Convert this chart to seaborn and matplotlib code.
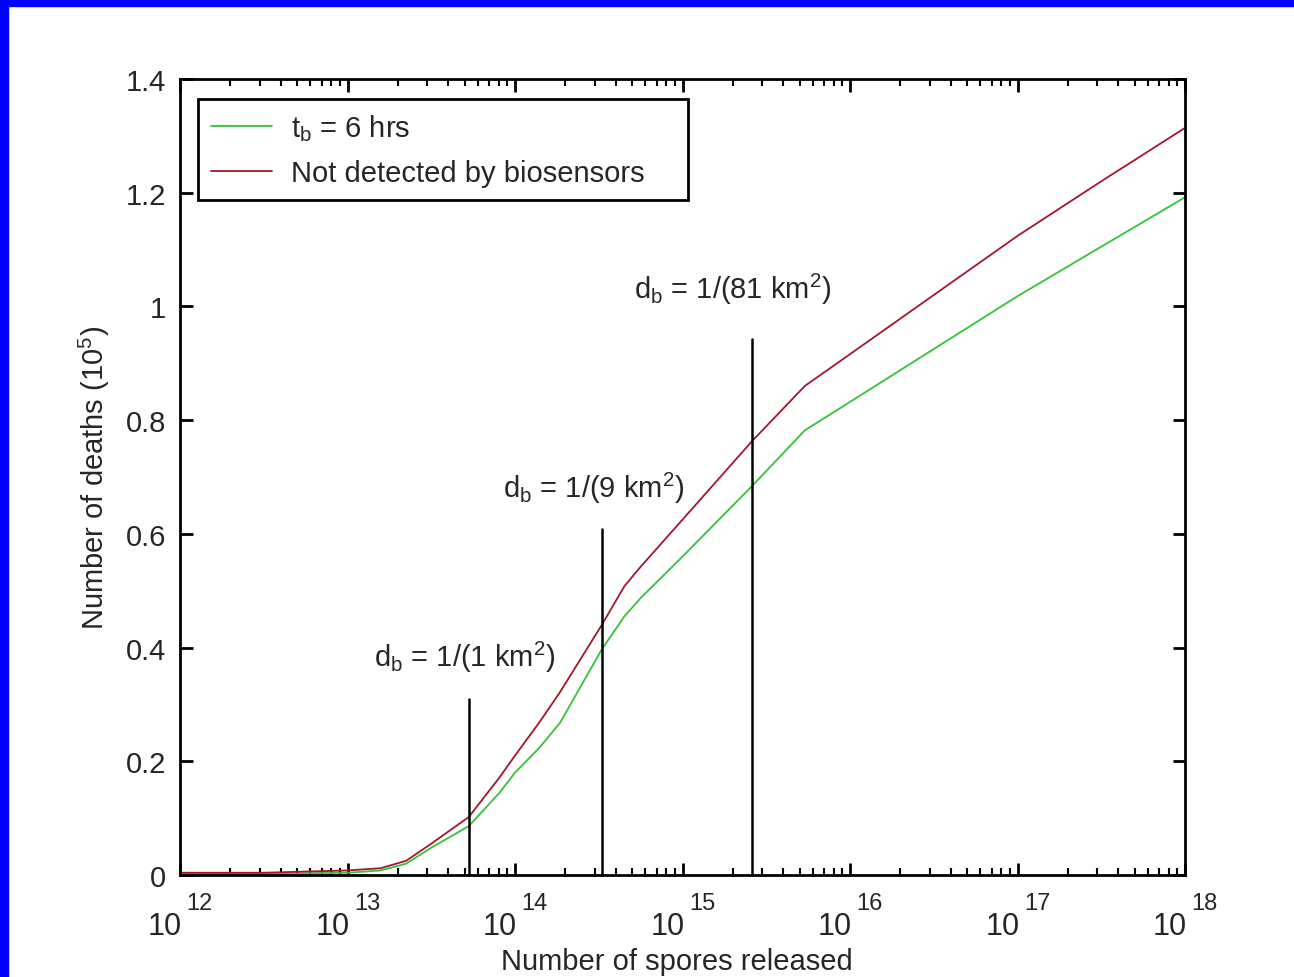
import numpy as np
import pandas as pd
import seaborn as sns
import matplotlib
matplotlib.use("Agg")
import matplotlib.pyplot as plt
from matplotlib.patches import Rectangle
from matplotlib.lines import Line2D
from matplotlib.ticker import FixedLocator, LogLocator, NullFormatter, FuncFormatter
import matplotlib.transforms as mtransforms

# ---------------- data ----------------
spores = [1e12, 3.16e12, 1e13, 1.58e13, 2.24e13, 3.16e13, 5.3e13, 8.1e13, 1e14,
          1.41e14, 1.86e14, 3.3e14, 4.5e14, 5.62e14, 1e15, 2.6e15, 5.37e15,
          1e16, 3.16e16, 1e17, 3.16e17, 1e18]
not_detected = [0.004, 0.004, 0.008, 0.012, 0.025, 0.055, 0.102, 0.172, 0.21,
                0.27, 0.322, 0.44, 0.508, 0.542, 0.625, 0.763, 0.86,
                0.916, 1.02, 1.124, 1.22, 1.314]
tb_6hrs = [0.002, 0.002, 0.004, 0.008, 0.02, 0.048, 0.086, 0.145, 0.18,
           0.225, 0.268, 0.397, 0.455, 0.487, 0.56, 0.684, 0.782,
           0.832, 0.925, 1.018, 1.105, 1.192]
series_names = ["t$_\\mathregular{b}$ = 6 hrs", "Not detected by biosensors"]

density_x = [5.3e13, 3.3e14, 2.6e15]           # biosensor density markers
density_top = [0.31, 0.608, 0.943]
density_labels = ["d$_\\mathregular{b}$ = 1/(1 km$^\\mathregular{2}$)",
                  "d$_\\mathregular{b}$ = 1/(9 km$^\\mathregular{2}$)",
                  "d$_\\mathregular{b}$ = 1/(81 km$^\\mathregular{2}$)"]
label_x = [5.0e13, 2.95e14, 2.0e15]
label_y = [0.384, 0.681, 1.031]

x_decades = [12, 13, 14, 15, 16, 17, 18]
y_ticks = [0, 0.2, 0.4, 0.6, 0.8, 1.0, 1.2, 1.4]

df = pd.DataFrame({
    "spores": spores * 2,
    "deaths": tb_6hrs + not_detected,
    "series": [series_names[0]] * len(spores) + [series_names[1]] * len(spores),
})

# ---------------- style ----------------
sns.set_theme(style="white")
plt.rcParams["font.family"] = ["Liberation Sans", "DejaVu Sans"]
plt.rcParams["mathtext.fontset"] = "custom"
plt.rcParams["mathtext.rm"] = "Liberation Sans"
plt.rcParams["mathtext.it"] = "Liberation Sans"
plt.rcParams["mathtext.bf"] = "Liberation Sans"

FS = 21

fig = plt.figure(figsize=(12.94, 9.78), dpi=100)
fig.patch.set_facecolor("white")
ax = fig.add_axes([180 / 1294, 1 - 876 / 978, (1185 - 180) / 1294, (876 - 80) / 978])

palette = {series_names[0]: "#36c236", series_names[1]: "#a3162c"}
sns.lineplot(data=df, x="spores", y="deaths", hue="series", palette=palette,
             hue_order=series_names, linewidth=1.3, ax=ax, legend=False)

ax.set_xscale("log")
ax.set_xlim(1e12, 1e18)
ax.set_ylim(0, 1.4)

for xv, yt in zip(density_x, density_top):
    ax.plot([xv, xv], [0, yt], color="black", linewidth=1.8)
for xv, yv, lab in zip(label_x, label_y, density_labels):
    ax.text(xv, yv, lab, ha="center", va="center", fontsize=FS)

# spines and ticks
for sp in ax.spines.values():
    sp.set_visible(True)
    sp.set_color("black")
    sp.set_linewidth(2)
ax.yaxis.set_major_locator(FixedLocator(y_ticks))
ax.yaxis.set_major_formatter(FuncFormatter(lambda v, p: f"{v:g}"))
ax.xaxis.set_major_locator(FixedLocator([10.0 ** d for d in x_decades]))
ax.xaxis.set_minor_locator(LogLocator(base=10, subs=np.arange(2, 10), numticks=100))
ax.xaxis.set_minor_formatter(NullFormatter())
ax.tick_params(axis="both", which="major", direction="in", length=9, width=2,
               top=True, right=True, bottom=True, left=True, color="black")
ax.tick_params(axis="x", which="minor", direction="in", length=5, width=1.5,
               top=True, bottom=True, color="black")
ax.tick_params(axis="x", labelbottom=False)
ax.tick_params(axis="y", labelsize=FS, pad=10)

# x tick labels as 10 + raised exponent
trans = mtransforms.blended_transform_factory(ax.transData, fig.transFigure)
for d in x_decades:
    ax.text(10.0 ** d * 1.03, 1 - 935 / 978, "10", transform=trans, ha="right",
            va="baseline", fontsize=22, clip_on=False)
    ax.text(10.0 ** d * 1.09, 1 - 910 / 978, f"{d}", transform=trans, ha="left",
            va="baseline", fontsize=17, clip_on=False)

ax.set_xlabel("")
ax.set_ylabel("Number of deaths (10$^\\mathregular{5}$)", fontsize=FS, labelpad=10)
fig.text((180 + 1185) / 2 / 1294 - 0.004, 1 - 970 / 978, "Number of spores released",
         ha="center", va="baseline", fontsize=FS)

# legend
handles = [Line2D([], [], color=palette[n], linewidth=1.3) for n in series_names]
leg = ax.legend(handles, series_names, loc="upper left",
                bbox_to_anchor=(0.018, 0.0, (688 - 198) / 1005, 0.975), mode="expand",
                borderaxespad=0, fontsize=FS,
                frameon=True, fancybox=False, handlelength=2.1, handletextpad=0.62,
                labelspacing=0.55, borderpad=0.45)
leg.get_frame().set_edgecolor("black")
leg.get_frame().set_linewidth(2)
leg.get_frame().set_facecolor("white")
leg.get_frame().set_alpha(1)

# blue frame edges
fig.add_artist(Rectangle((0, 1 - 7 / 978), 1, 7 / 978, transform=fig.transFigure,
                         color="#0000ff", zorder=10))
fig.add_artist(Rectangle((0, 0), 8 / 1294, 1, transform=fig.transFigure,
                         color="#0000ff", zorder=10))

fig.savefig("out.png", dpi=100)
